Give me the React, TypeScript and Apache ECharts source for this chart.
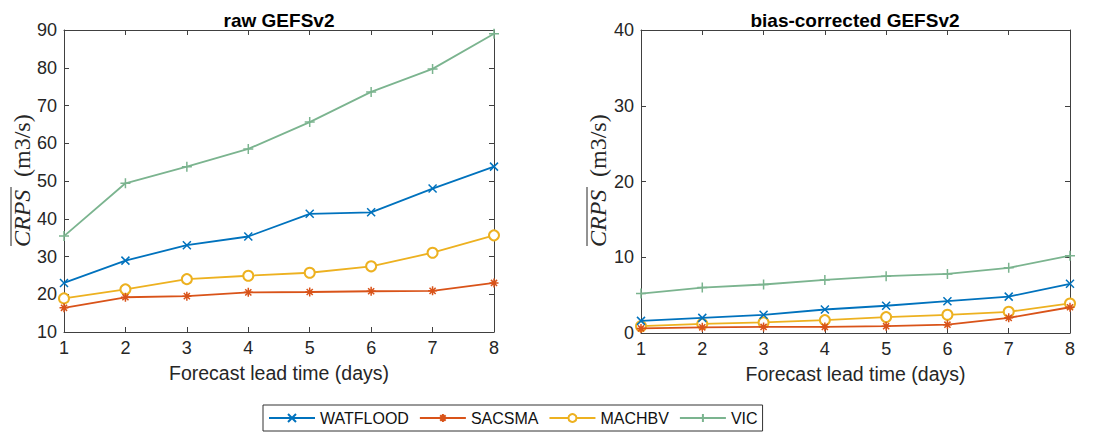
import React, { useEffect, useRef } from "react";
import * as echarts from "echarts";

const days = [1, 2, 3, 4, 5, 6, 7, 8];
const modelNames = ["WATFLOOD", "SACSMA", "MACHBV", "VIC"];

const rawWatflood = [23.0, 28.9, 33.0, 35.3, 41.3, 41.7, 48.0, 53.8];
const rawSacsma = [16.4, 19.2, 19.5, 20.5, 20.6, 20.8, 20.9, 23.0];
const rawMachbv = [18.9, 21.3, 24.0, 24.9, 25.7, 27.4, 31.0, 35.6];
const rawVic = [35.4, 49.4, 53.8, 58.5, 65.6, 73.6, 79.7, 89.0];

const bcWatflood = [1.6, 2.0, 2.4, 3.1, 3.6, 4.2, 4.8, 6.5];
const bcSacsma = [0.6, 0.75, 0.8, 0.8, 0.9, 1.1, 2.0, 3.4];
const bcMachbv = [0.9, 1.2, 1.4, 1.7, 2.1, 2.4, 2.8, 3.9];
const bcVic = [5.2, 6.0, 6.4, 7.0, 7.5, 7.8, 8.6, 10.2];

const panelTitles = ["raw GEFSv2", "bias-corrected GEFSv2"];
const xName = "Forecast lead time (days)";

const colors = ["#0072BD", "#D95319", "#EDB120", "#7bb48f"];
const symbols = [
  "path://M0,0L10,10M0,10L10,0",
  "path://M5,0L5,10M0,5L10,5M1.6,1.6L8.4,8.4M1.6,8.4L8.4,1.6",
  "emptyCircle",
  "path://M5,0L5,10M0,5L10,5",
];
const symbolSizes = [8, 9, 10, 10];

const axisColor = "#404040";
const textColor = "#262626";
const sans = "Arial, 'Liberation Sans', sans-serif";

function makeSeries(values: number[], idx: number, grid: number) {
  return {
    name: modelNames[idx],
    type: "line",
    xAxisIndex: grid * 2,
    yAxisIndex: grid * 2,
    data: days.map((d, i) => [d, values[i]]),
    symbol: symbols[idx],
    symbolSize: symbolSizes[idx],
    showAllSymbol: true,
    lineStyle: { color: colors[idx], width: 1.8 },
    itemStyle: {
      color: colors[idx],
      borderColor: colors[idx],
      borderWidth: 1.5,
    },
    emphasis: { disabled: true },
    z: 3 + (idx === 3 ? 0 : 3 - idx),
  };
}

function xAxes(grid: number) {
  const base = {
    gridIndex: grid,
    type: "value",
    min: 1,
    max: 8,
    interval: 1,
    splitLine: { show: false },
    axisLine: { show: true, onZero: false, lineStyle: { color: axisColor, width: 1 } },
    axisTick: { show: true, inside: true, length: 5, lineStyle: { color: axisColor } },
  };
  return [
    {
      ...base,
      position: "bottom",
      name: xName,
      nameLocation: "middle",
      nameGap: 31,
      nameTextStyle: { fontSize: 19.5, color: textColor, fontFamily: sans },
      axisLabel: { fontSize: 18, color: textColor, margin: 7, fontFamily: sans },
    },
    { ...base, position: "top", axisLabel: { show: false } },
  ];
}

function yAxes(grid: number, min: number, max: number) {
  const base = {
    gridIndex: grid,
    type: "value",
    min,
    max,
    interval: 10,
    splitLine: { show: false },
    axisLine: { show: true, onZero: false, lineStyle: { color: axisColor, width: 1 } },
    axisTick: { show: true, inside: true, length: 5, lineStyle: { color: axisColor } },
  };
  return [
    {
      ...base,
      position: "left",
      axisLabel: { fontSize: 18, color: textColor, margin: 7, fontFamily: sans },
    },
    { ...base, position: "right", axisLabel: { show: false } },
  ];
}

function yLabel(cx: number, cy: number) {
  return {
    type: "group",
    x: cx,
    y: cy,
    rotation: Math.PI / 2,
    children: [
      {
        type: "text",
        x: -68,
        y: 0,
        style: {
          text: "CRPS",
          font: "italic 24px 'Liberation Serif', serif",
          fill: textColor,
          textAlign: "left",
          textVerticalAlign: "middle",
        },
      },
      {
        type: "line",
        shape: { x1: -67, y1: -11, x2: -8, y2: -11 },
        style: { stroke: textColor, lineWidth: 1 },
      },
      {
        type: "text",
        x: 2,
        y: 0,
        style: {
          text: "(m3/s)",
          font: "24px 'Liberation Serif', serif",
          fill: textColor,
          textAlign: "left",
          textVerticalAlign: "middle",
        },
      },
    ],
  };
}

function titleText(x: number, text: string) {
  return {
    type: "text",
    x,
    y: 20,
    style: {
      text,
      font: "bold 19px Arial, 'Liberation Sans', sans-serif",
      fill: "#000000",
      textAlign: "center",
      textVerticalAlign: "middle",
    },
  };
}

export default function App() {
  const ref = useRef<HTMLDivElement>(null);
  useEffect(() => {
    if (!ref.current) return;
    const chart = echarts.init(ref.current, null, { renderer: "svg" });
    const option = {
      animation: false,
      backgroundColor: "#ffffff",
      grid: [
        { left: 64, top: 30, width: 430, height: 302, containLabel: false },
        { left: 641, top: 30, width: 429, height: 303, containLabel: false },
      ],
      xAxis: [...xAxes(0), ...xAxes(1)],
      yAxis: [...yAxes(0, 10, 90), ...yAxes(1, 0, 40)],
      legend: {
        data: modelNames,
        left: 263,
        top: 405,
        width: 700,
        orient: "horizontal",
        itemWidth: 46,
        itemHeight: 10,
        itemGap: 10,
        padding: [5, 5, 5, 5],
        borderColor: "#333333",
        borderWidth: 1,
        backgroundColor: "#ffffff",
        textStyle: { fontSize: 16, color: "#111111", fontFamily: sans },
        selectedMode: false,
      },
      graphic: [
        titleText(279, panelTitles[0]),
        titleText(855, panelTitles[1]),
        yLabel(22, 179),
        yLabel(598, 179),
      ],
      series: [
        makeSeries(rawWatflood, 0, 0),
        makeSeries(rawSacsma, 1, 0),
        makeSeries(rawMachbv, 2, 0),
        makeSeries(rawVic, 3, 0),
        makeSeries(bcWatflood, 0, 1),
        makeSeries(bcSacsma, 1, 1),
        makeSeries(bcMachbv, 2, 1),
        makeSeries(bcVic, 3, 1),
      ],
    };
    chart.setOption(option as any);
    return () => chart.dispose();
  }, []);
  return (
    <div
      ref={ref}
      style={{ position: "fixed", left: 0, top: 0, width: 1120, height: 437, background: "#fff" }}
    />
  );
}
